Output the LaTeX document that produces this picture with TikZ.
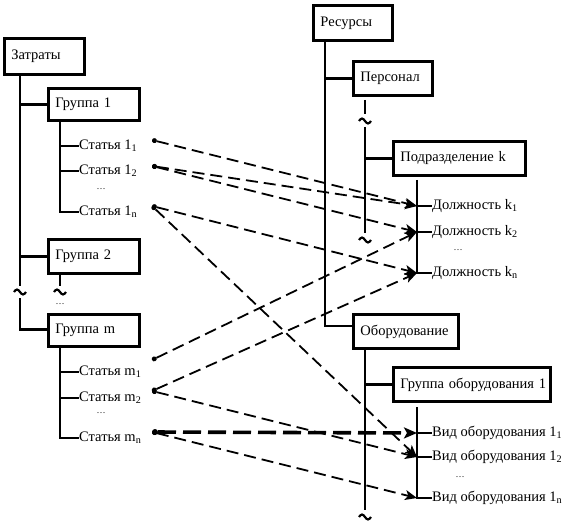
\documentclass[tikz,border=0pt]{standalone}
\usepackage{fontspec}
\setmainfont{Liberation Serif}
\usetikzlibrary{arrows.meta}
\begin{document}
\begin{tikzpicture}[x=1pt,y=-1pt,
  every node/.style={font=\fontsize{14.5}{16}\selectfont},
  box/.style={draw, line width=2.8pt, anchor=north west, inner xsep=7pt, inner ysep=0pt, align=left},
  lbl/.style={anchor=west, inner sep=0pt},
  dts/.style={inner sep=0pt, font=\fontsize{9}{10}\selectfont},
  trunk/.style={line width=2.8pt},
  sub/.style={line width=2.3pt},
  conn/.style={line width=1.8pt, dash pattern=on 12pt off 6pt, {Circle[length=5pt,fill=black,line width=0pt]}-{Stealth[length=12pt,width=10pt,inset=3pt]}},
  thickconn/.style={line width=3.6pt, dash pattern=on 18pt off 7pt, {Circle[length=6pt,fill=black,line width=0pt]}-{Stealth[length=13pt,width=11pt,inset=3pt]}},
  tld/.pic={\draw[line width=2.2pt] (-6,0) sin (-3,-2.5) cos (0,0) sin (3,2.5) cos (6,0);}
]
\useasboundingbox (0,0) rectangle (568,524);

% ---------- left tree ----------
\node[box, minimum width=80pt, minimum height=36pt, text width=66pt] (zat) at (3,37) {Затраты};
\node[box, minimum width=91pt, minimum height=32pt, text width=77pt] (g1) at (47,87) {Группа 1};
\node[box, minimum width=91pt, minimum height=34pt, text width=77pt] (g2) at (47,238) {Группа 2};
\node[box, minimum width=91pt, minimum height=32pt, text width=77pt] (gm) at (47,313) {Группа m};

\draw[trunk] (zat.south -| 20,0) -- (20,286);
\pic at (20,292) {tld};
\draw[trunk] (20,298) -- (20,329.3) -- (gm.west |- 20,329.3);
\draw[trunk] (g1.west -| 20,0) -- (g1.west);
\draw[trunk] (g2.west -| 20,0) -- (g2.west);

% group 1 items
\node[lbl] (s11) at (79,146) {Статья 1\textsubscript{1}};
\node[lbl] (s12) at (79,171) {Статья 1\textsubscript{2}};
\node[dts] (dd1) at (101,189) {\dots};
\node[lbl] (s1n) at (79,212) {Статья 1\textsubscript{n}};
\draw[sub] (g1.south -| 60,0) -- (60,212) -- (s1n.west);
\draw[sub] (60,146) -- (s11.west);
\draw[sub] (60,171) -- (s12.west);

% group 2
\draw[sub] (g2.south -| 60,0) -- (60,286);
\pic at (60,292) {tld};
\node[dts] (ddg) at (60,304) {\dots};

% group m items
\node[lbl] (sm1) at (79,372) {Статья m\textsubscript{1}};
\node[lbl] (sm2) at (79,398) {Статья m\textsubscript{2}};
\node[dts] (dd2) at (101,413) {\dots};
\node[lbl] (smn) at (79,438) {Статья m\textsubscript{n}};
\draw[sub] (gm.south -| 60,0) -- (60,438) -- (smn.west);
\draw[sub] (60,372) -- (sm1.west);
\draw[sub] (60,398) -- (sm2.west);

% ---------- right tree ----------
\node[box, minimum width=79pt, minimum height=35pt, text width=65pt] (res) at (312,4) {Ресурсы};
\node[box, minimum width=79pt, minimum height=34pt, text width=65pt] (pers) at (352,60) {Персонал};
\node[box, minimum width=132pt, minimum height=34pt, text width=118pt] (podr) at (392,140) {Подразделение~k};
\node[box, minimum width=105pt, minimum height=34pt, text width=91pt] (obor) at (352,313) {Оборудование};
\node[box, minimum width=157pt, minimum height=34pt, text width=143pt] (gob) at (392,366) {Группа~оборудования~1};

\draw[trunk] (res.south -| 325,0) -- (325,326) -- (obor.west |- 325,326);
\draw[trunk] (pers.west -| 325,0) -- (pers.west);

% Персонал branch
\draw[sub] (365,100) -- (365,114);
\pic at (365,121) {tld};
\draw[sub] (365,127) -- (365,233);
\pic at (365,240) {tld};
\draw[sub] (podr.west -| 365,0) -- (podr.west);

\node[lbl] (k1) at (432,206) {Должность k\textsubscript{1}};
\node[lbl] (k2) at (432,232) {Должность k\textsubscript{2}};
\node[dts] (dk) at (458,250) {\dots};
\node[lbl] (kn) at (432,273) {Должность k\textsubscript{n}};
\draw[sub] (417,180) -- (417,273) -- (kn.west);
\draw[sub] (417,206) -- (k1.west);
\draw[sub] (417,232) -- (k2.west);

% Оборудование branch
\draw[sub] (obor.south -| 365,0) -- (365,510);
\pic at (365,517) {tld};
\draw[sub] (gob.west -| 365,0) -- (gob.west);

\node[lbl] (v1) at (432,433) {Вид оборудования 1\textsubscript{1}};
\node[lbl] (v2) at (432,457) {Вид оборудования 1\textsubscript{2}};
\node[dts] (dv) at (460,477) {\dots};
\node[lbl] (vn) at (432,498) {Вид оборудования 1\textsubscript{n}};
\draw[sub] (417,407) -- (417,498) -- (vn.west);
\draw[sub] (417,433) -- (v1.west);
\draw[sub] (417,457) -- (v2.west);

% ---------- connector end points ----------
\coordinate (a11) at (152,140);
\coordinate (a12) at (152,166);
\coordinate (a1n) at (152,206);
\coordinate (am1) at (152,360);
\coordinate (am2) at (152,391);
\coordinate (amn) at (152,432);
\coordinate (tk1) at (417,206);
\coordinate (tk2) at (417,232);
\coordinate (tkn) at (417,273);
\coordinate (tv1) at (417,433);
\coordinate (tv2) at (417,457);
\coordinate (tvn) at (417,498);

\draw[conn] (a11) -- (tk1);
\draw[conn] (a12) -- (tk1);
\draw[conn] (a12) -- (tk2);
\draw[conn] (a1n) -- (tkn);
\draw[conn] (a1n) -- (tv2);
\draw[conn] (am1) -- (tk2);
\draw[conn] (am2) -- (tkn);
\draw[conn] (am2) -- (tv2);
\draw[thickconn] (amn) -- (tv1);
\draw[conn] (amn) -- (tvn);
\end{tikzpicture}
\end{document}
